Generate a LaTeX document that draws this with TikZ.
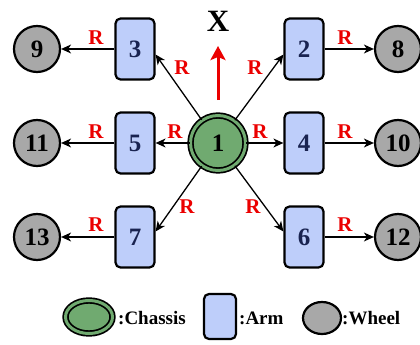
\documentclass[tikz,border=0pt]{standalone}
\usepackage{fontspec}
\setmainfont{Liberation Serif}
\usetikzlibrary{arrows.meta,shapes.geometric}
\definecolor{armblue}{RGB}{190,206,250}
\definecolor{chgreen}{RGB}{112,170,112}
\definecolor{wgray}{RGB}{168,168,168}
\definecolor{navy}{RGB}{25,35,80}
\definecolor{rred}{RGB}{235,0,0}
\begin{document}
\begin{tikzpicture}[x=1pt,y=-1pt,
  armbox/.style={draw, line width=2.2pt, rounded corners=5pt, fill=armblue,
    minimum width=39pt, minimum height=61pt, inner sep=0pt,
    font=\fontsize{25}{25}\selectfont\bfseries, text=navy},
  wheel/.style={circle, draw, line width=2.2pt, fill=wgray, minimum size=46pt,
    inner sep=0pt, font=\fontsize{25}{25}\selectfont\bfseries},
  chassis/.style={circle, draw=black, double=chgreen, double distance=3pt,
    line width=1.7pt, fill=chgreen, minimum size=55pt, inner sep=0pt,
    font=\fontsize{25}{25}\selectfont\bfseries},
  arr/.style={line width=1.3pt, -{Stealth[length=10pt,width=9pt,inset=3pt]}},
  rlab/.style={text=rred, inner sep=0pt, font=\fontsize{21}{21}\selectfont\bfseries},
  legtext/.style={anchor=west, inner sep=0pt, font=\fontsize{19}{19}\selectfont\bfseries}]
\useasboundingbox (0,0) rectangle (420,345);

% nodes
\node[chassis] (c) at (218,143) {1};
\node[armbox] (a2) at (304,49) {2};
\node[armbox] (a3) at (135,49) {3};
\node[armbox] (a4) at (304,143) {4};
\node[armbox] (a5) at (135,143) {5};
\node[armbox] (a6) at (304,237) {6};
\node[armbox] (a7) at (135,237) {7};
\node[wheel] (w8) at (398,49) {8};
\node[wheel] (w9) at (37,49) {9};
\node[wheel] (w10) at (398,143) {10};
\node[wheel] (w11) at (37,143) {11};
\node[wheel] (w12) at (398,237) {12};
\node[wheel] (w13) at (37,237) {13};

% chassis to arms
\draw[arr] (c) -- (a2.195);
\draw[arr] (c) -- (a3.-15);
\draw[arr] (c) -- (a4);
\draw[arr] (c) -- (a5);
\draw[arr] (c) -- (a6.165);
\draw[arr] (c) -- (a7.15);
% arms to wheels
\draw[arr] (a2) -- (w8);
\draw[arr] (a3) -- (w9);
\draw[arr] (a4) -- (w10);
\draw[arr] (a5) -- (w11);
\draw[arr] (a6) -- (w12);
\draw[arr] (a7) -- (w13);

% R labels
\node[rlab] (r1) at (96,38) {R};
\node[rlab] (r2) at (182,68) {R};
\node[rlab] (r3) at (255,68) {R};
\node[rlab] (r4) at (345,38) {R};
\node[rlab] (r5) at (96,132) {R};
\node[rlab] (r6) at (175,132) {R};
\node[rlab] (r7) at (260,132) {R};
\node[rlab] (r8) at (345,132) {R};
\node[rlab] (r9) at (187,207) {R};
\node[rlab] (r10) at (96,225) {R};
\node[rlab] (r11) at (253,207) {R};
\node[rlab] (r12) at (345,225) {R};

% X direction
\coordinate (xs) at (218,100);
\coordinate (xe) at (218,46);
\draw[rred, line width=3pt, -{Stealth[length=14pt,width=15pt,inset=3pt]}] (xs) -- (xe);
\node[inner sep=0pt, font=\fontsize{31}{31}\selectfont\bfseries] (xl) at (218,21) {X};

% legend
\node[ellipse, draw=black, double=chgreen, double distance=3pt, line width=1.7pt,
  fill=chgreen, minimum width=47pt, minimum height=33pt, inner sep=0pt] (lc) at (89,317) {};
\node[legtext] (lct) at (118,318) {:Chassis};
\node[draw, line width=2.2pt, rounded corners=5pt, fill=armblue,
  minimum width=32pt, minimum height=45pt, inner sep=0pt] (la) at (220,316.5) {};
\node[legtext] (lat) at (239,318) {:Arm};
\node[ellipse, draw, line width=2.2pt, fill=wgray, minimum width=38pt,
  minimum height=32pt, inner sep=0pt] (lw) at (322,318) {};
\node[legtext] (lwt) at (342,318) {:Wheel};
\end{tikzpicture}
\end{document}
